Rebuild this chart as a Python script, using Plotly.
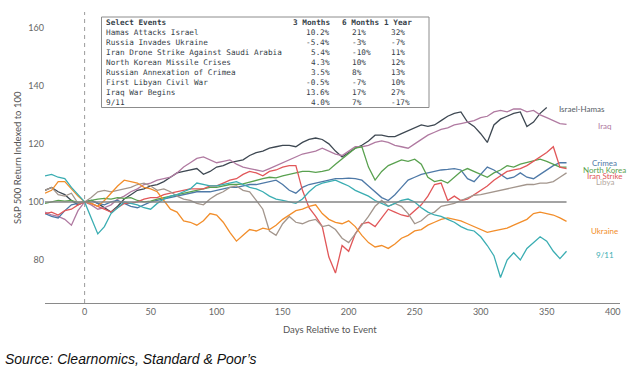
import plotly.graph_objects as go

# ---------------- data ----------------
days = list(range(-30, 366, 5))

israel_hamas = [
    104, 105, 103.5, 102.5, 100.5, 99, 100, 100.5, 99.5, 98,
    96.5, 98.5, 101, 102.5, 104, 104.5, 105.5, 106, 107, 108.5,
    110, 110.5, 111, 111.5, 109.5, 110.5, 112, 112.5, 113.5, 114,
    114.5, 116, 117, 117.5, 118.5, 119, 119.5, 119.5, 119, 120.5,
    121.5, 122, 121.5, 120, 117.5, 115.5, 117, 118.5, 119.5, 121,
    123, 123, 122.5, 122.5, 123.5, 124.5, 125.5, 126.5, 126, 126.5,
    128, 129.5, 130.5, 131, 127.5, 126, 123.5, 120.5, 126.5, 128.5,
    129.5, 130.5, 131, 126, 127.5, 130.5, 132.5, None, None, None,
]
iraq = [
    96.5, 95.5, 95, 94, 92, 97, 100, 99, 97.5, 98,
    99, 101, 102, 103.5, 104.5, 106, 106.5, 107.5, 108, 108.5,
    110, 112, 113.5, 115, 115.5, 114.5, 113.5, 114, 114.5, 113,
    112, 111.5, 111, 110.5, 111.5, 112.5, 113.5, 114.5, 115.5, 116.5,
    117, 117.5, 118.5, 117.5, 116.5, 116, 117.5, 119, 119, 119.5,
    120.5, 121, 120.5, 119.5, 119, 118.5, 120, 121.5, 123, 124,
    125, 125.5, 126.5, 127, 127.5, 128, 129, 129.5, 131, 131.5,
    131, 132, 132, 131, 131.5, 130, 129, 128, 127, 126.7,
]
crimea = [
    96, 95, 94.5, 97, 99, 99.5, 100, 100.5, 99.5, 99,
    100, 100.5, 99.5, 98.5, 98, 99, 100, 100.5, 101, 101.5,
    102, 102.5, 103, 103.5, 103.5, 103.5, 104, 104.5, 105, 105,
    105.5, 106, 106, 106.5, 107, 107.5, 106, 104, 103, 105,
    106, 106.5, 107, 107.5, 108, 108, 108.2, 108, 107.5, 105.5,
    103.5, 101.5, 100.5, 102.5, 105, 107.5, 108.5, 109.5, 110, 110.5,
    111, 111.2, 111.5, 111, 108, 107, 109.5, 112, 111, 109.5,
    108, 108.5, 110, 108.5, 108, 109.5, 111, 112.5, 113.5, 113.5,
]
north_korea = [
    99.5, 100, 100.5, 100.3, 100.5, 99.8, 100, 100.5, 101, 101.2,
    101, 101.5, 101.2, 101.5, 100.5, 100, 100.3, 101, 101.5, 102,
    102.5, 102.8, 103.5, 104, 104.5, 105, 105, 105.5, 106, 106,
    106.2, 106.8, 107.5, 108, 108.5, 108.3, 109, 109.5, 109.8, 110.5,
    110.5, 110.2, 110.5, 111, 113, 114.8, 116.5, 118.5, 119, 112,
    107.5, 110.5, 112.5, 113.5, 114.5, 114, 114.7, 113, 108.5, 107,
    107.5, 106.5, 108.5, 110.5, 111.5, 110.5, 109.5, 108.5, 110, 111,
    112.5, 112, 113, 113.5, 114, 114.7, 114, 113, 112, 112,
]
iran_strike = [
    96, 96.5, 95.5, 97, 97.5, 99, 100, 99.5, 98.5, 97.5,
    96.5, 98, 99.5, 99.5, 100, 101, 101.5, 101.5, 102.5, 103,
    103.5, 104, 104.5, 104.5, 104.5, 105.5, 105.5, 106.5, 107.5, 108,
    109.5, 110.5, 110, 109, 110.5, 111, 112, 112.5, 112.5, 104,
    98, 95, 91.5, 81, 75.5, 85, 83, 89, 92.5, 93,
    91.5, 94.5, 97.5, 96.5, 95.5, 95, 97, 99, 102, 106,
    106.5, 100.5, 102, 100.5, 101, 102.5, 104, 105.5, 107.5, 109,
    110.5, 111, 111.5, 112.5, 114, 115.5, 117, 119, 112, 111.5,
]
libya = [
    104, 105, 102.5, 102, 103, 99.5, 100, 101.5, 103.5, 104,
    103.5, 104, 104.5, 105, 106, 106.5, 105.5, 104, 104.5, 103.5,
    102, 101, 100.5, 99.5, 99, 101, 102.5, 103.5, 105, 105.5,
    104, 103.5, 100.5, 97.5, 90, 88.5, 92.5, 95, 93, 92.5,
    93.5, 94, 91.5, 92, 90.5, 87.5, 86, 89, 92, 95,
    98.5, 100.5, 98.5, 99.5, 98.5, 96, 92.5, 93.5, 95.5, 96.5,
    98.5, 99, 99.5, 100.5, 101.5, 102.3, 102.5, 103, 103.5, 104,
    104.5, 105, 105.5, 106, 106, 106.5, 106.5, 107, 108.5, 110,
]
ukraine = [
    103, 104, 107, 107, 104.5, 102, 100, 99.5, 98.5, 100.5,
    103, 105.5, 107.5, 107, 106.5, 105, 104.5, 103.5, 100.5, 97.5,
    96.5, 93.5, 93, 92, 93.5, 96, 95.5, 93, 89.5, 86.5,
    88.5, 90.5, 90, 91, 90.5, 92, 94, 95.5, 97, 97.5,
    98.5, 99, 96, 94, 93, 92.5, 93.5, 91.5, 88.5, 86,
    84.5, 85, 84, 85.5, 87.5, 88.5, 90, 90.5, 92, 93,
    94, 94.5, 94, 93.5, 92.5, 91.5, 90.5, 89.5, 90, 90.5,
    91, 92, 93, 94, 96, 96.5, 96, 95.5, 94.5, 93.3,
]
sept_11 = [
    109, 109.5, 108.5, 108, 105, 102.5, 100, 94.5, 89, 91.5,
    96, 98, 100, 99.5, 99, 98, 97.5, 99.5, 101, 102,
    102.5, 103.5, 104.5, 106.5, 106, 105.5, 105.5, 106, 106.5, 107,
    106, 105, 104.5, 103.5, 102, 101, 100.5, 100, 99.5, 101,
    103.5, 105.5, 106.5, 107, 107.5, 106.5, 105.5, 104, 103, 102,
    100.5, 99.5, 98.5, 99.5, 100.5, 101, 100, 98, 96.5, 95.5,
    95, 94, 93, 91.5, 90.5, 90, 88, 85, 81.5, 74,
    80, 82.5, 80, 84, 86, 88, 86.5, 83, 80.5, 83,
]

series_names = ["Israel-Hamas", "Iraq", "Crimea", "North Korea",
                "Iran Strike", "Libya", "Ukraine", "9/11"]
series_values = [israel_hamas, iraq, crimea, north_korea,
                 iran_strike, libya, ukraine, sept_11]
baseline = 100

table_header = ["Select Events", "3 Months", "6 Months", "1 Year"]
table_events = ["Hamas Attacks Israel", "Russia Invades Ukraine",
                "Iran Drone Strike Against Saudi Arabia",
                "North Korean Missile Crises", "Russian Annexation of Crimea",
                "First Libyan Civil War", "Iraq War Begins", "9/11"]
table_3m = ["10.2%", "-5.4%", "5.4%", "4.3%", "3.5%", "-0.5%", "13.6%", "4.0%"]
table_6m = ["21%", "-3%", "-10%", "10%", "8%", "-7%", "17%", "7%"]
table_1y = ["32%", "-7%", "11%", "12%", "13%", "10%", "27%", "-17%"]

x_ticks = [0, 50, 100, 150, 200, 250, 300, 350, 400]
y_ticks = [80, 100, 120, 140, 160]

# ---------------- styles ----------------
colors = {
    "Israel-Hamas": "#3e4852",
    "Iraq": "#b07aa1",
    "Crimea": "#4e79a7",
    "North Korea": "#59a14f",
    "Iran Strike": "#e15759",
    "Libya": "#a3968d",
    "Ukraine": "#f28e2b",
    "9/11": "#3aadb2",
}
label_colors = dict(colors)
label_colors["Libya"] = "#b3a7a0"
label_colors["Israel-Hamas"] = "#555d66"
# label placement (data coords)
label_pos = {
    "Israel-Hamas": (377, 132.0),
    "Iraq": (394, 126.3),
    "Crimea": (394, 113.3),
    "North Korea": (394, 111.1),
    "Iran Strike": (394, 109.0),
    "Libya": (394, 106.8),
    "Ukraine": (394, 89.9),
    "9/11": (394, 81.7),
}

W, H = 629, 380
ML, MR, MT, MB = 45, 9, 12, 77
PW, PH = W - ML - MR, H - MT - MB


def px(x):
    return (x - ML) / PW


def py(y):
    return (H - MB - y) / PH


fig = go.Figure()

for name, vals in zip(series_names, series_values):
    fig.add_trace(go.Scatter(
        x=days, y=vals, mode="lines", name=name,
        line=dict(color=colors[name], width=1.3),
        connectgaps=False, hoverinfo="skip",
    ))

# reference line at the baseline
fig.add_trace(go.Scatter(
    x=[days[0], days[-1]], y=[baseline, baseline], mode="lines",
    line=dict(color="#858585", width=1.5), hoverinfo="skip",
))

# event day dashed line
fig.add_shape(type="line", xref="x", yref="paper", x0=0, x1=0, y0=0, y1=1,
              line=dict(color="#9a9a9a", width=1, dash="4px,4px"))

annotations = []
for name in series_names:
    lx, ly = label_pos[name]
    annotations.append(dict(
        x=lx, y=ly, xref="x", yref="y", text=name, showarrow=False,
        xanchor="center", yanchor="middle",
        font=dict(family="Lato", size=8, color=label_colors[name]),
    ))

# table box
fig.add_shape(type="rect", xref="paper", yref="paper",
              x0=px(101.5), x1=px(429), y0=py(107.5), y1=py(17),
              line=dict(color="#8c8c8c", width=1), fillcolor="white",
              layer="above")

mono = "DejaVu Sans Mono"
tcol = "#353e48"
fs = 7.7
row0, dy = 22.6, 9.95
col_name, col_3m_r, col_6m_h, col_6m_v, col_1y_h, col_1y_v = 104, 332, 340, 350, 382, 389


def cell(text, x, row, anchor, bold=False):
    t = "<b>%s</b>" % text if bold else text
    annotations.append(dict(
        x=px(x), y=py(row0 + dy * row), xref="paper", yref="paper",
        text=t, showarrow=False, xanchor=anchor, yanchor="middle",
        font=dict(family=mono, size=fs, color=tcol),
    ))


cell(table_header[0], col_name, 0, "left", True)
cell(table_header[1], col_3m_r, 0, "right", True)
cell(table_header[2], col_6m_h, 0, "left", True)
cell(table_header[3], col_1y_h, 0, "left", True)
for i in range(len(table_events)):
    cell(table_events[i], col_name, i + 1, "left")
    cell(table_3m[i], col_3m_r, i + 1, "right")
    cell(table_6m[i], col_6m_v, i + 1, "left")
    cell(table_1y[i], col_1y_v, i + 1, "left")

# axis titles and source
annotations.append(dict(
    x=px(17), y=py(158), xref="paper", yref="paper",
    text="S&P 500 Return Indexed to 100", textangle=-90, showarrow=False,
    xanchor="center", yanchor="middle",
    font=dict(family="Lato", size=9.5, color="#555"),
))
annotations.append(dict(
    x=px(330), y=py(329), xref="paper", yref="paper",
    text="Days Relative to Event", showarrow=False,
    xanchor="center", yanchor="middle",
    font=dict(family="Lato", size=9.5, color="#555"),
))
annotations.append(dict(
    x=px(3), y=py(359), xref="paper", yref="paper",
    text="<i>Source: Clearnomics, Standard & Poor’s</i>", showarrow=False,
    xanchor="left", yanchor="middle",
    font=dict(family="Liberation Sans", size=14, color="#111"),
))

fig.update_layout(
    width=W, height=H,
    margin=dict(l=ML, r=MR, t=MT, b=MB, pad=0, autoexpand=False),
    paper_bgcolor="white", plot_bgcolor="white",
    showlegend=False,
    font=dict(family="Lato", size=9, color="#666"),
    annotations=annotations,
    xaxis=dict(range=[-30, 405.5], tickvals=x_ticks, showgrid=False,
               zeroline=False, showline=True, linecolor="#8a8a8a",
               linewidth=1.2, ticks="", automargin=False,
               tickfont=dict(size=9, color="#666")),
    yaxis=dict(range=[65.2, 165.4], tickvals=y_ticks, showgrid=False,
               zeroline=False, showline=False, ticks="", automargin=False,
               tickfont=dict(size=9, color="#666")),
)

fig.write_html(
    "out.html",
    config={"displayModeBar": False},
    post_script="document.body.style.margin='0';document.body.style.padding='0';",
)
